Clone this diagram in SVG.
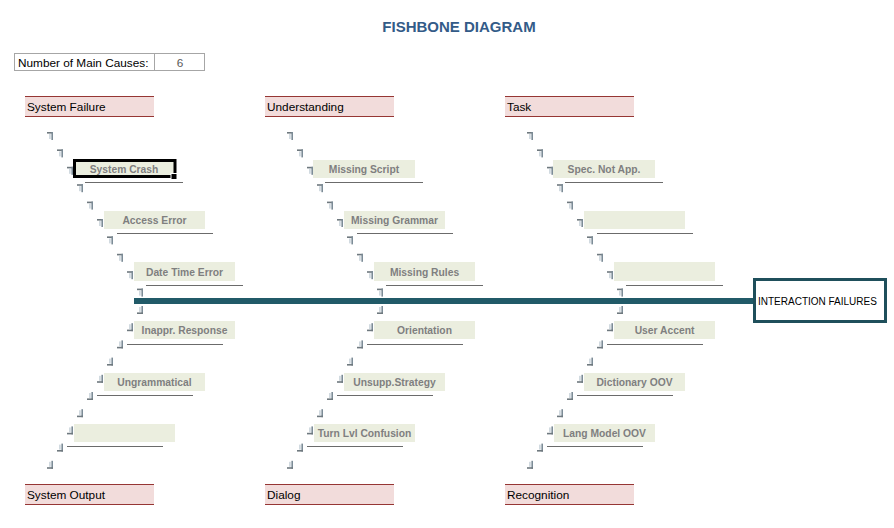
<svg xmlns="http://www.w3.org/2000/svg" xmlns:xlink="http://www.w3.org/1999/xlink" width="894" height="528" viewBox="0 0 894 528">
<style>
.title{font-family:"Liberation Sans",Arial,sans-serif;font-weight:bold;font-size:15px;fill:#335b88}
.lbl{font-family:"Liberation Sans",Arial,sans-serif;font-size:11.8px;fill:#000}
.hdr{fill:#f2dcdb}
.hline{stroke:#963634;stroke-width:1}
.cause{fill:#ebeedf}
.ctext{font-family:"Liberation Sans",Arial,sans-serif;font-weight:bold;font-size:10.3px;fill:#7f7f7f;text-anchor:middle}
.uline{stroke:#6b6b6b;stroke-width:1}
.effect{fill:#fff;stroke:#1f4f5b;stroke-width:3}
.etext{font-family:"Liberation Sans",Arial,sans-serif;font-size:10px;fill:#000}
.num{fill:#fff;stroke:#a6a6a6;stroke-width:1}
</style>
<defs>
<g id="gu">
<rect x="-3" y="-4" width="6" height="1.6" fill="#6f797f"/>
<rect x="1.4" y="-4" width="1.6" height="8" fill="#7c8c97"/>
<rect x="-0.6" y="-2" width="1.1" height="5" fill="#b3c2cc"/>
</g>
<g id="gl">
<rect x="1.4" y="-4" width="1.6" height="8" fill="#7c8c97"/>
<rect x="-3" y="2.4" width="6" height="1.6" fill="#6f797f"/>
<rect x="-0.6" y="-3" width="1.1" height="5" fill="#b3c2cc"/>
</g>
</defs>
<rect width="894" height="528" fill="#fff"/>
<text class="title" x="459" y="32" text-anchor="middle">FISHBONE DIAGRAM</text>
<g id="main-causes-count">
<rect class="num" x="14.5" y="53.5" width="190" height="17"/>
<line x1="154.5" y1="53.5" x2="154.5" y2="70.5" stroke="#a6a6a6"/>
<text class="lbl" x="18" y="66.5">Number of Main Causes:</text>
<text class="lbl" x="180" y="66.5" text-anchor="middle" fill="#595959" style="fill:#595959">6</text>
</g>

<g id="connectors">
<rect x="134" y="298" width="620" height="6" fill="#215a68"/>
<!-- column 1 bones -->
<use xlink:href="#gu" x="50" y="136"/><use xlink:href="#gu" x="60" y="153.4"/><use xlink:href="#gu" x="70" y="170.8"/><use xlink:href="#gu" x="80" y="188.2"/><use xlink:href="#gu" x="90" y="205.6"/><use xlink:href="#gu" x="100" y="223"/><use xlink:href="#gu" x="110" y="240.4"/><use xlink:href="#gu" x="120" y="257.8"/><use xlink:href="#gu" x="130" y="275.2"/><use xlink:href="#gu" x="140" y="292.6"/>
<use xlink:href="#gl" x="140" y="310"/><use xlink:href="#gl" x="130" y="327.2"/><use xlink:href="#gl" x="120" y="344.4"/><use xlink:href="#gl" x="110" y="361.6"/><use xlink:href="#gl" x="100" y="378.8"/><use xlink:href="#gl" x="90" y="396"/><use xlink:href="#gl" x="80" y="413.2"/><use xlink:href="#gl" x="70" y="430.4"/><use xlink:href="#gl" x="60" y="447.6"/><use xlink:href="#gl" x="50" y="464.8"/>
<!-- column 2 bones -->
<use xlink:href="#gu" x="290" y="136"/><use xlink:href="#gu" x="300" y="153.4"/><use xlink:href="#gu" x="310" y="170.8"/><use xlink:href="#gu" x="320" y="188.2"/><use xlink:href="#gu" x="330" y="205.6"/><use xlink:href="#gu" x="340" y="223"/><use xlink:href="#gu" x="350" y="240.4"/><use xlink:href="#gu" x="360" y="257.8"/><use xlink:href="#gu" x="370" y="275.2"/><use xlink:href="#gu" x="380" y="292.6"/>
<use xlink:href="#gl" x="380" y="310"/><use xlink:href="#gl" x="370" y="327.2"/><use xlink:href="#gl" x="360" y="344.4"/><use xlink:href="#gl" x="350" y="361.6"/><use xlink:href="#gl" x="340" y="378.8"/><use xlink:href="#gl" x="330" y="396"/><use xlink:href="#gl" x="320" y="413.2"/><use xlink:href="#gl" x="310" y="430.4"/><use xlink:href="#gl" x="300" y="447.6"/><use xlink:href="#gl" x="290" y="464.8"/>
<!-- column 3 bones -->
<use xlink:href="#gu" x="530" y="136"/><use xlink:href="#gu" x="540" y="153.4"/><use xlink:href="#gu" x="550" y="170.8"/><use xlink:href="#gu" x="560" y="188.2"/><use xlink:href="#gu" x="570" y="205.6"/><use xlink:href="#gu" x="580" y="223"/><use xlink:href="#gu" x="590" y="240.4"/><use xlink:href="#gu" x="600" y="257.8"/><use xlink:href="#gu" x="610" y="275.2"/><use xlink:href="#gu" x="620" y="292.6"/>
<use xlink:href="#gl" x="620" y="310"/><use xlink:href="#gl" x="610" y="327.2"/><use xlink:href="#gl" x="600" y="344.4"/><use xlink:href="#gl" x="590" y="361.6"/><use xlink:href="#gl" x="580" y="378.8"/><use xlink:href="#gl" x="570" y="396"/><use xlink:href="#gl" x="560" y="413.2"/><use xlink:href="#gl" x="550" y="430.4"/><use xlink:href="#gl" x="540" y="447.6"/><use xlink:href="#gl" x="530" y="464.8"/>
<!-- underlines -->
<line class="uline" x1="85" y1="182.5" x2="183" y2="182.5"/>
<line class="uline" x1="117" y1="233.5" x2="213" y2="233.5"/>
<line class="uline" x1="146" y1="285.5" x2="243" y2="285.5"/>
<line class="uline" x1="127" y1="344.5" x2="223" y2="344.5"/>
<line class="uline" x1="97" y1="395.5" x2="193" y2="395.5"/>
<line class="uline" x1="67" y1="446.5" x2="163" y2="446.5"/>
<line class="uline" x1="325" y1="182.5" x2="423" y2="182.5"/>
<line class="uline" x1="357" y1="233.5" x2="453" y2="233.5"/>
<line class="uline" x1="386" y1="285.5" x2="483" y2="285.5"/>
<line class="uline" x1="367" y1="344.5" x2="463" y2="344.5"/>
<line class="uline" x1="337" y1="395.5" x2="433" y2="395.5"/>
<line class="uline" x1="307" y1="446.5" x2="403" y2="446.5"/>
<line class="uline" x1="565" y1="182.5" x2="663" y2="182.5"/>
<line class="uline" x1="597" y1="233.5" x2="693" y2="233.5"/>
<line class="uline" x1="626" y1="285.5" x2="723" y2="285.5"/>
<line class="uline" x1="607" y1="344.5" x2="703" y2="344.5"/>
<line class="uline" x1="577" y1="395.5" x2="673" y2="395.5"/>
<line class="uline" x1="547" y1="446.5" x2="643" y2="446.5"/>
</g>

<!-- category headers -->
<g id="cat-system-failure"><rect class="hdr" x="25" y="96" width="129" height="20"/><line class="hline" x1="25" y1="96.5" x2="154" y2="96.5"/><line class="hline" x1="25" y1="116.5" x2="154" y2="116.5"/><text class="lbl" x="27" y="111">System Failure</text></g>
<g id="cat-understanding"><rect class="hdr" x="265" y="96" width="129" height="20"/><line class="hline" x1="265" y1="96.5" x2="394" y2="96.5"/><line class="hline" x1="265" y1="116.5" x2="394" y2="116.5"/><text class="lbl" x="267" y="111">Understanding</text></g>
<g id="cat-task"><rect class="hdr" x="505" y="96" width="129" height="20"/><line class="hline" x1="505" y1="96.5" x2="634" y2="96.5"/><line class="hline" x1="505" y1="116.5" x2="634" y2="116.5"/><text class="lbl" x="507" y="111">Task</text></g>
<g id="cat-system-output"><rect class="hdr" x="25" y="484" width="129" height="20"/><line class="hline" x1="25" y1="484.5" x2="154" y2="484.5"/><line class="hline" x1="25" y1="504.5" x2="154" y2="504.5"/><text class="lbl" x="27" y="499">System Output</text></g>
<g id="cat-dialog"><rect class="hdr" x="265" y="484" width="129" height="20"/><line class="hline" x1="265" y1="484.5" x2="394" y2="484.5"/><line class="hline" x1="265" y1="504.5" x2="394" y2="504.5"/><text class="lbl" x="267" y="499">Dialog</text></g>
<g id="cat-recognition"><rect class="hdr" x="505" y="484" width="129" height="20"/><line class="hline" x1="505" y1="484.5" x2="634" y2="484.5"/><line class="hline" x1="505" y1="504.5" x2="634" y2="504.5"/><text class="lbl" x="507" y="499">Recognition</text></g>

<!-- column 1 causes -->
<g id="c-system-crash"><rect class="cause" x="73" y="160" width="102" height="18"/><text class="ctext" x="124" y="173">System Crash</text>
<rect x="74.5" y="160.5" width="100.5" height="16" fill="none" stroke="#000" stroke-width="3"/><rect x="171" y="173.5" width="6" height="6" fill="#000" stroke="#fff" stroke-width="1"/></g>
<g id="c-access-error"><rect class="cause" x="104" y="211" width="101" height="18"/><text class="ctext" x="154.5" y="224">Access Error</text></g>
<g id="c-date-time-error"><rect class="cause" x="134" y="262" width="101" height="19"/><text class="ctext" x="184.5" y="275.5">Date Time Error</text></g>
<g id="c-inappr-response"><rect class="cause" x="134" y="321" width="101" height="18"/><text class="ctext" x="184.5" y="334">Inappr. Response</text></g>
<g id="c-ungrammatical"><rect class="cause" x="104" y="373" width="101" height="18"/><text class="ctext" x="154.5" y="386">Ungrammatical</text></g>
<g id="c-empty-1"><rect class="cause" x="74" y="424" width="101" height="18"/></g>
<!-- column 2 causes -->
<g id="c-missing-script"><rect class="cause" x="313" y="160" width="102" height="18"/><text class="ctext" x="364" y="173">Missing Script</text></g>
<g id="c-missing-grammar"><rect class="cause" x="344" y="211" width="101" height="18"/><text class="ctext" x="394.5" y="224">Missing Grammar</text></g>
<g id="c-missing-rules"><rect class="cause" x="374" y="262" width="101" height="19"/><text class="ctext" x="424.5" y="275.5">Missing Rules</text></g>
<g id="c-orientation"><rect class="cause" x="374" y="321" width="101" height="18"/><text class="ctext" x="424.5" y="334">Orientation</text></g>
<g id="c-unsupp-strategy"><rect class="cause" x="344" y="373" width="101" height="18"/><text class="ctext" x="394.5" y="386">Unsupp.Strategy</text></g>
<g id="c-turn-lvl-confusion"><rect class="cause" x="314" y="424" width="101" height="18"/><text class="ctext" x="364.5" y="437">Turn Lvl Confusion</text></g>
<!-- column 3 causes -->
<g id="c-spec-not-app"><rect class="cause" x="553" y="160" width="102" height="18"/><text class="ctext" x="604" y="173">Spec. Not App.</text></g>
<g id="c-empty-2"><rect class="cause" x="584" y="211" width="101" height="18"/></g>
<g id="c-empty-3"><rect class="cause" x="614" y="262" width="101" height="19"/></g>
<g id="c-user-accent"><rect class="cause" x="614" y="321" width="101" height="18"/><text class="ctext" x="664.5" y="334">User Accent</text></g>
<g id="c-dictionary-oov"><rect class="cause" x="584" y="373" width="101" height="18"/><text class="ctext" x="634.5" y="386">Dictionary OOV</text></g>
<g id="c-lang-model-oov"><rect class="cause" x="554" y="424" width="101" height="18"/><text class="ctext" x="604.5" y="437">Lang Model OOV</text></g>

<g id="effect"><rect class="effect" x="754.5" y="279.5" width="131" height="42"/><text class="etext" x="758" y="305">INTERACTION FAILURES</text></g>
</svg>
